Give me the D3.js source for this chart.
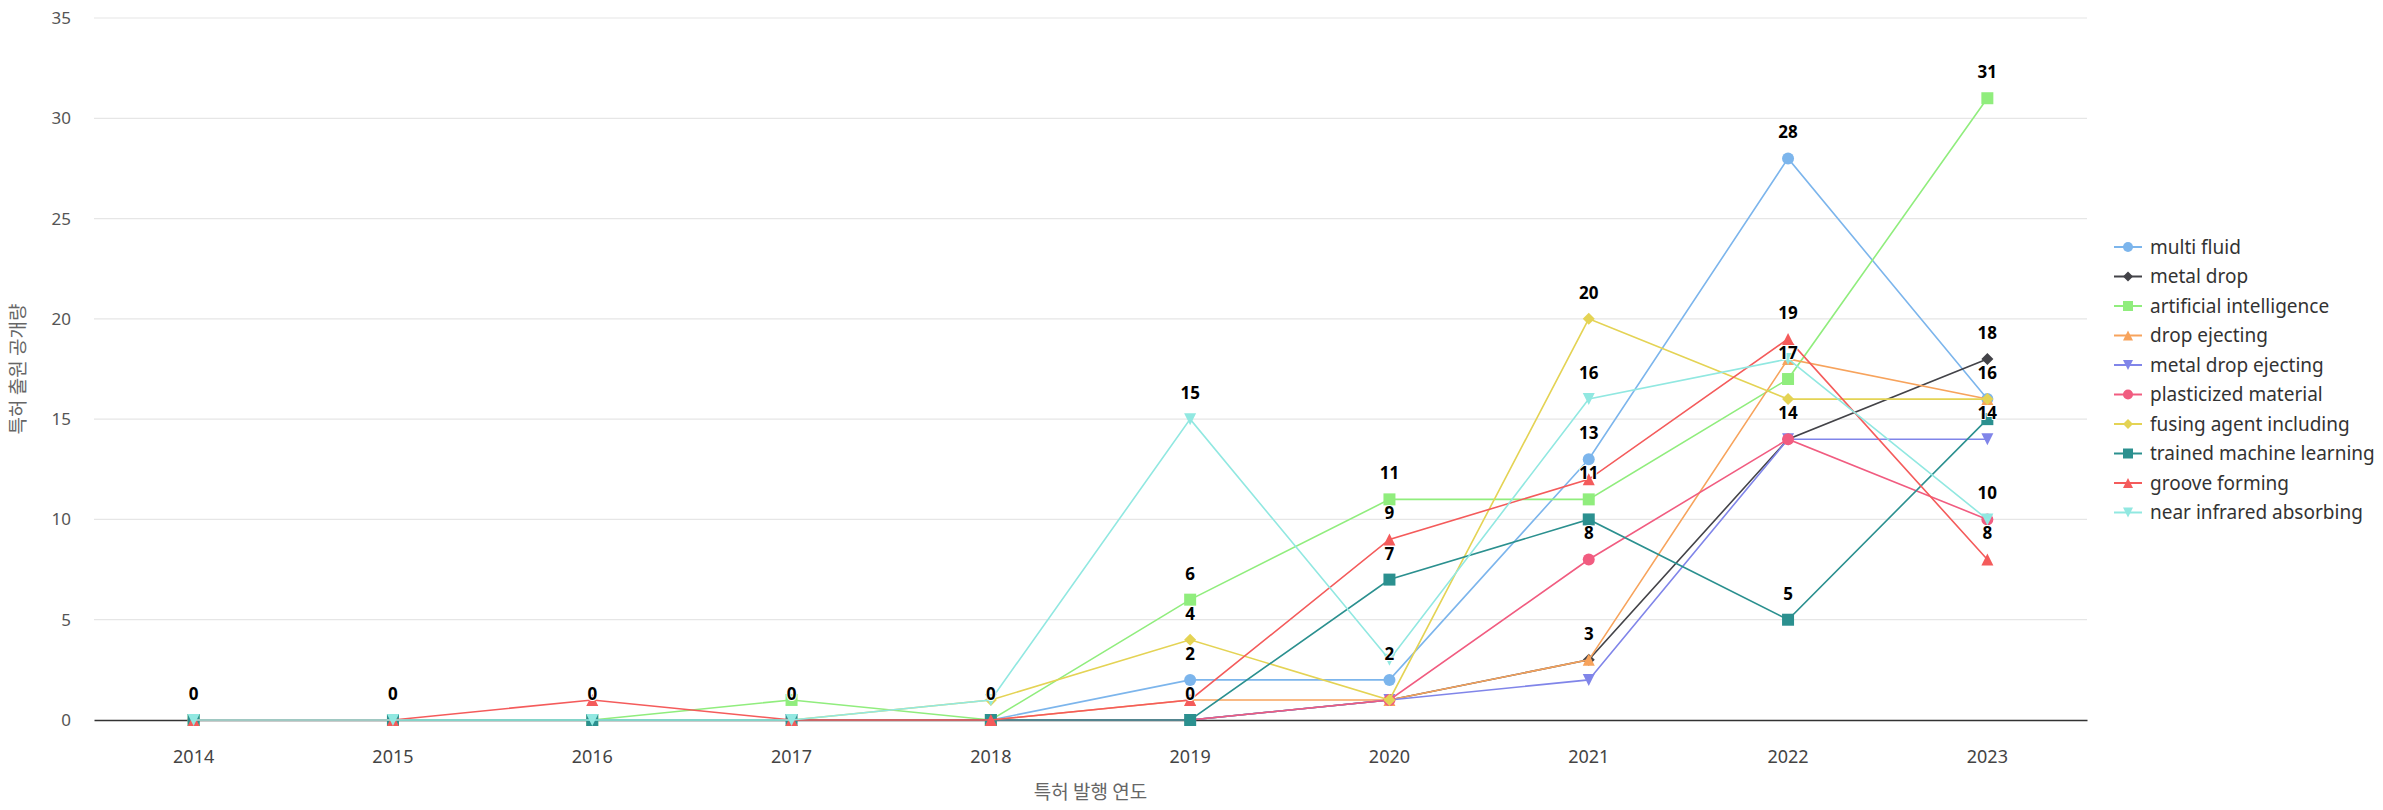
<!DOCTYPE html>
<html>
<head>
<meta charset="utf-8">
<script src="https://cdn.jsdelivr.net/npm/d3@7"></script>
<style>
  html, body { margin: 0; padding: 0; background: #fff; }
  svg { display: block; }
  text { font-family: "Noto Sans", "Open Sans", "Noto Sans CJK KR", sans-serif; }
</style>
</head>
<body>
<svg id="chart" width="2383" height="810"></svg>
<script>
// ---- data ----
const years = ["2014","2015","2016","2017","2018","2019","2020","2021","2022","2023"];
const seriesNames = ["multi fluid","metal drop","artificial intelligence","drop ejecting","metal drop ejecting","plasticized material","fusing agent including","trained machine learning","groove forming","near infrared absorbing"];
const multiFluid        = [0,0,0,0,0,2,2,13,28,16];
const metalDrop         = [0,0,0,0,0,0,1,3,14,18];
const artificialIntel   = [0,0,0,1,0,6,11,11,17,31];
const dropEjecting      = [0,0,0,0,0,1,1,3,18,16];
const metalDropEjecting = [0,0,0,0,0,0,1,2,14,14];
const plasticized       = [0,0,0,0,0,0,1,8,14,10];
const fusingAgent       = [0,0,0,0,1,4,1,20,16,16];
const trainedML         = [0,0,0,0,0,0,7,10,5,15];
const grooveForming     = [0,0,1,0,0,1,9,12,19,8];
const nearInfrared      = [0,0,0,0,1,15,3,16,18,10];
const yTicks = [0,5,10,15,20,25,30,35];
const xTitle = "특허 발행 연도";
const yTitle = "특허 출원 공개량";

const colors = ["#7cb5ec","#434348","#90ed7d","#f7a35c","#8085e9","#f15c80","#e4d354","#2b908f","#f45b5b","#91e8e1"];
const symbols = ["circle","diamond","square","triangle","triangle-down","circle","diamond","square","triangle","triangle-down"];
const values = [multiFluid, metalDrop, artificialIntel, dropEjecting, metalDropEjecting, plasticized, fusingAgent, trainedML, grooveForming, nearInfrared];
const series = seriesNames.map((n,i)=>({name:n, color:colors[i], symbol:symbols[i], values:values[i]}));

// ---- layout ----
const margin = {left: 94, right: 2087, top: 18, bottom: 720};
const svg = d3.select("#chart");

const x = d3.scaleBand().domain(years).range([margin.left, margin.right]);
const y = d3.scaleLinear().domain([0,35]).range([margin.bottom, margin.top]);
const cx = d => x(d) + x.bandwidth()/2;

function symbolPath(type, r) {
  switch(type) {
    case "circle": return `M${-r},0A${r},${r} 0 1,0 ${r},0A${r},${r} 0 1,0 ${-r},0Z`;
    case "square": return `M${-r},${-r}H${r}V${r}H${-r}Z`;
    case "diamond": return `M0,${-r}L${r},0L0,${r}L${-r},0Z`;
    case "triangle": return `M0,${-r}L${r},${r}L${-r},${r}Z`;
    case "triangle-down": return `M${-r},${-r}L${r},${-r}L0,${r}Z`;
  }
}

// grid
const grid = svg.append("g");
grid.selectAll("line").data(yTicks.filter(t=>t>0)).join("line")
  .attr("x1", margin.left).attr("x2", margin.right)
  .attr("y1", d=>y(d)).attr("y2", d=>y(d))
  .attr("stroke", "#e6e6e6").attr("stroke-width", 1.2);

// y axis labels
const yAxis = d3.axisLeft(y).tickValues(yTicks).tickSize(0).tickPadding(0);
const yg = svg.append("g").attr("transform", `translate(${margin.left-23},0)`).call(yAxis);
yg.select(".domain").remove();
yg.selectAll("text").attr("font-size", 17).attr("fill", "#555")
  .style("font-family", '"Noto Sans", sans-serif');

// x axis
const xAxis = d3.axisBottom(x).tickSize(0).tickPadding(0);
const xg = svg.append("g").attr("transform", `translate(0,${margin.bottom})`).call(xAxis);
xg.select(".domain").attr("stroke", "#333").attr("stroke-width", 1.5);
xg.selectAll("text").attr("font-size", 18).attr("fill", "#444").attr("y", 30)
  .style("font-family", '"Noto Sans", sans-serif');

// axis titles
svg.append("text").attr("x", (margin.left+margin.right)/2).attr("y", 799)
  .attr("text-anchor","middle").attr("font-size", 19).attr("fill","#666")
  .style("font-family",'"Noto Sans CJK KR", sans-serif').text(xTitle);
svg.append("text").attr("transform", `translate(25,${(margin.top+margin.bottom)/2}) rotate(-90)`)
  .attr("text-anchor","middle").attr("font-size", 19).attr("fill","#666")
  .style("font-family",'"Noto Sans CJK KR", sans-serif').text(yTitle);

// series
const line = d3.line().x((d,i)=>cx(years[i])).y(d=>y(d));
series.forEach(s => {
  const g = svg.append("g");
  g.append("path").attr("d", line(s.values)).attr("fill","none")
    .attr("stroke", s.color).attr("stroke-width", 1.6);
  g.selectAll("path.m").data(s.values).join("path").attr("class","m")
    .attr("transform", (d,i)=>`translate(${cx(years[i])},${y(d)})`)
    .attr("d", symbolPath(s.symbol, 6)).attr("fill", s.color);
});

// data labels with overlap hiding
const lg = svg.append("g");
const placed = [];
series.forEach(s => {
  s.values.forEach((v,i) => {
    const px = cx(years[i]), py = y(v) - 26;
    const t = lg.append("text").attr("x", px).attr("y", py).attr("dy","0.35em")
      .attr("text-anchor","middle").attr("font-size", 17).attr("font-weight", "bold")
      .attr("fill","#000").attr("stroke","#fff").attr("stroke-width", 2)
      .attr("paint-order","stroke").attr("stroke-linejoin","round")
      .style("font-family",'"Noto Sans", sans-serif').text(v);
    const bb = t.node().getBBox();
    const box = {x0: bb.x-2, x1: bb.x+bb.width+2, y0: bb.y-1, y1: bb.y+bb.height+1};
    const hit = placed.some(b => !(box.x1 < b.x0 || box.x0 > b.x1 || box.y1 < b.y0 || box.y0 > b.y1));
    if (hit) t.remove(); else placed.push(box);
  });
});

// legend
const leg = svg.append("g");
series.forEach((s,i) => {
  const ly = 247 + i*29.5;
  const g = leg.append("g").attr("transform", `translate(2114,${ly})`);
  g.append("line").attr("x1",0).attr("x2",28).attr("y1",0).attr("y2",0)
    .attr("stroke", s.color).attr("stroke-width", 2);
  g.append("path").attr("transform","translate(14,0)").attr("d", symbolPath(s.symbol, 5)).attr("fill", s.color);
  g.append("text").attr("x", 36).attr("y", 0).attr("dy","0.35em")
    .attr("font-size", 19).attr("fill","#333")
    .style("font-family",'"Noto Sans", sans-serif').text(s.name);
});
</script>
</body>
</html>
